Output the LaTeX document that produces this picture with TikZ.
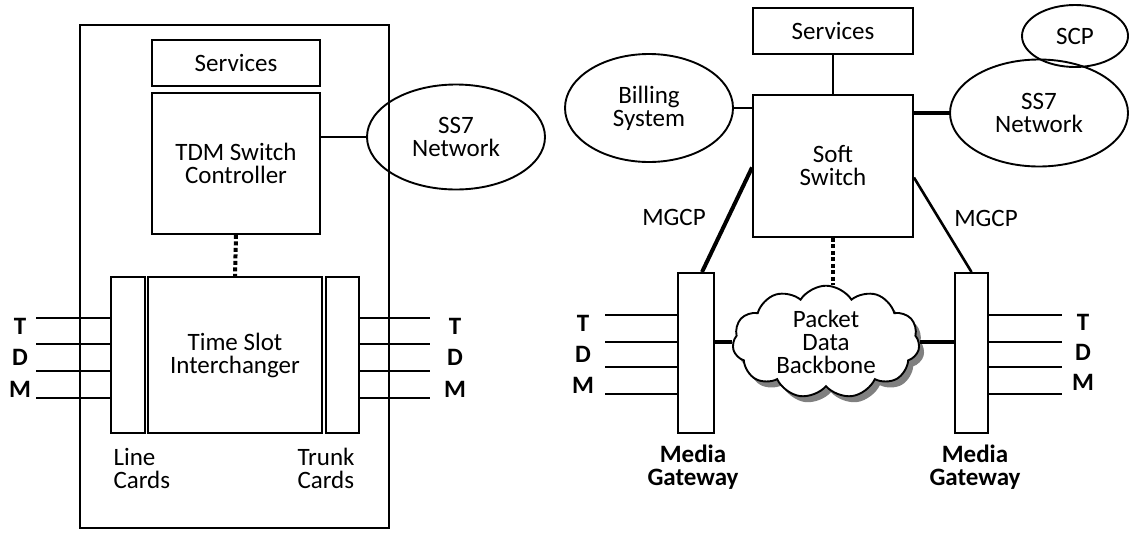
\documentclass[tikz,border=0pt]{standalone}
\usepackage{fontspec}
\setmainfont{Carlito}
\usetikzlibrary{shapes.geometric,shapes.symbols,shadows,calc}

\begin{document}
\begin{tikzpicture}[x=1pt, y=-1pt, font=\fontsize{25}{23}\selectfont]
    \tikzset{
        box/.style={draw, line width=1.9pt, inner sep=0pt, align=center},
        oval/.style={ellipse, draw, line width=1.9pt, inner sep=0pt, align=center},
        link/.style={line width=1.9pt},
        heavylink/.style={line width=4pt},
        ctrllink/.style={line width=4pt, dash pattern=on 4pt off 2.5pt},
        trunkline/.style={line width=2.2pt},
        tdmlabel/.style={font=\fontsize{25}{23}\selectfont\bfseries},
        gwlabel/.style={font=\fontsize{25}{23}\selectfont\bfseries, align=center}
    }
    \useasboundingbox (0,0) rectangle (1131,533);

    % TDM switch
    \begin{scope}[shift={(0,0)}]
        \node[box, minimum width=309pt, minimum height=503pt] (frame) at (234.5,276.5) {};
        \node[box, minimum width=168pt, minimum height=46pt] (svcl) at (236,63) {Services};
        \node[box, minimum width=168pt, minimum height=141pt] (tdmctl) at (236,163.5) {TDM Switch\\Controller};
        \node[box, minimum width=34pt, minimum height=156pt] (linecards) at (128,355) {};
        \node[box, minimum width=174pt, minimum height=156pt] (tsi) at (235,355) {Time Slot\\Interchanger};
        \node[box, minimum width=33pt, minimum height=156pt] (trunkcards) at (342.5,355) {};
        \node[oval, minimum width=178pt, minimum height=105pt] (ss7l) at (456,137) {SS7\\Network};

        \draw[link] (tdmctl.east |- ss7l.west) -- (ss7l.west);
        \draw[ctrllink] (tdmctl.south) -- (tsi.north);

        \foreach \i/\y in {1/318,2/344,3/371,4/398} {
            \coordinate (lin\i) at (36,\y);
            \coordinate (lout\i) at (430,\y);
            \draw[trunkline] (lin\i) -- (lin\i -| linecards.west);
            \draw[trunkline] (trunkcards.east |- lout\i) -- (lout\i);
        }
        \node[tdmlabel] (lt) at (20,326) {T};
        \node[tdmlabel] (ld) at (20,357) {D};
        \node[tdmlabel] (lm) at (20,389) {M};
        \node[tdmlabel] (rt) at (455,326) {T};
        \node[tdmlabel] (rd) at (455,357) {D};
        \node[tdmlabel] (rm) at (455,389) {M};

        \node[anchor=west, align=left] (linelbl) at (110,468) {Line\\Cards};
        \node[anchor=west, align=left] (trunklbl) at (294,468) {Trunk\\Cards};
    \end{scope}

    % soft switch
    \begin{scope}[shift={(530,0)}]
        \node[box, minimum width=160pt, minimum height=46pt] (svcr) at (303,31) {Services};
        \node[box, minimum width=160pt, minimum height=142pt] (softsw) at (303,166) {Soft\\Switch};
        \node[oval, minimum width=168pt, minimum height=108pt] (billing) at (119,108) {Billing\\System};
        \node[oval, minimum width=178pt, minimum height=107pt] (ss7r) at (509,113) {SS7\\Network};
        \node[oval, minimum width=106pt, minimum height=62pt] (scp) at (545,36) {SCP};
        \node[box, minimum width=36pt, minimum height=160pt] (mgwl) at (166,353) {};
        \node[box, minimum width=33pt, minimum height=160pt] (mgwr) at (441.5,353) {};
        \node[cloud, cloud puffs=11, cloud puff arc=115, aspect=1.9, draw, line width=1.9pt,
              fill=white, inner sep=0pt, align=center, minimum width=187pt, minimum height=100pt,
              drop shadow={shadow xshift=5pt, shadow yshift=-6pt, fill=black!50, opacity=1}]
              (backbone) at (296,342) {Packet\\Data\\Backbone};

        \draw[link] (softsw.north) -- (softsw.north |- svcr.south);
        \draw[link] (billing.east) -- (billing.east -| softsw.west);
        \draw[heavylink] (ss7r.west) -- (ss7r.west -| softsw.east);
        \draw[heavylink] ($(softsw.south west)!0.49!(softsw.north west)$) -- ($(mgwl.north)+(6,0)$);
        \draw[line width=2.6pt] ($(softsw.south east)!0.42!(softsw.north east)$) -- (mgwr.north);
        \draw[ctrllink] (softsw.south) -- (softsw.south |- backbone.north);
        \draw[heavylink] (mgwl.east |- backbone.west) -- (backbone.west);
        \draw[heavylink] (backbone.east) -- (backbone.east -| mgwr.west);

        \node (mgcpl) at (144,217) {MGCP};
        \node (mgcpr) at (456,218) {MGCP};

        \foreach \i/\y in {1/315,2/342,3/367,4/394} {
            \coordinate (gin\i) at (75,\y);
            \coordinate (gout\i) at (532,\y);
            \draw[trunkline] (gin\i) -- (gin\i -| mgwl.west);
            \draw[trunkline] (mgwr.east |- gout\i) -- (gout\i);
        }
        \node[tdmlabel] (glt) at (53,323) {T};
        \node[tdmlabel] (gld) at (53,354) {D};
        \node[tdmlabel] (glm) at (53,385) {M};
        \node[tdmlabel] (grt) at (553,322) {T};
        \node[tdmlabel] (grd) at (553,352) {D};
        \node[tdmlabel] (grm) at (553,382) {M};

        \node[gwlabel] (gwl) at (163,467) {Media\\Gateway};
        \node[gwlabel] (gwr) at (445,467) {Media\\Gateway};
    \end{scope}
\end{tikzpicture}
\end{document}
